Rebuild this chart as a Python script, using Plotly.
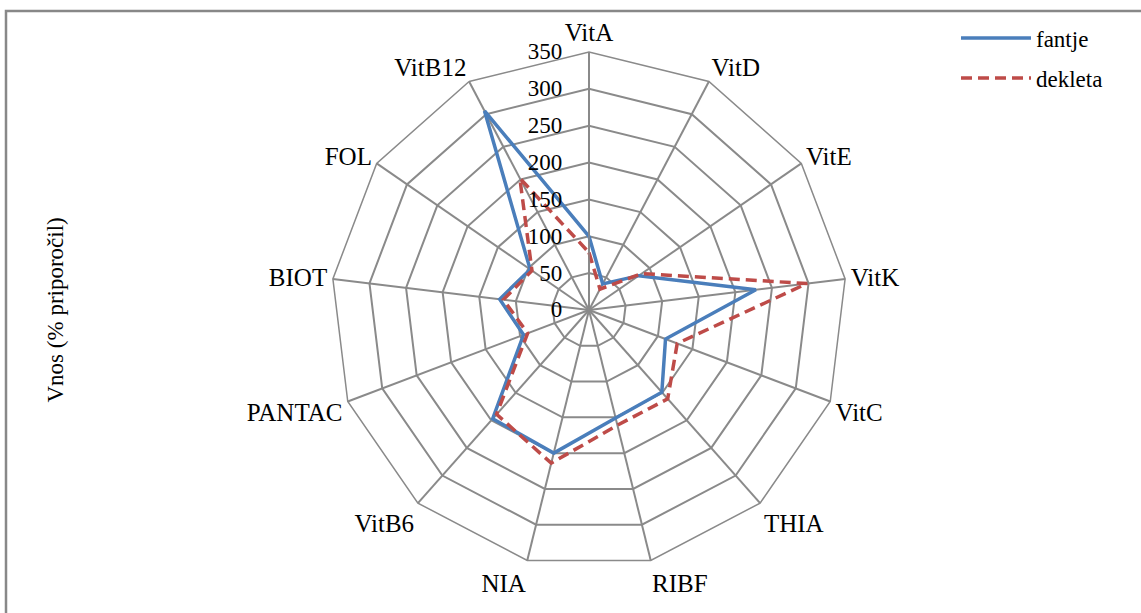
import plotly.graph_objects as go

# Vitamin intake relative to recommendations (%), boys vs girls
categories = ["VitA", "VitD", "VitE", "VitK", "VitC", "THIA", "RIBF",
              "NIA", "VitB6", "PANTAC", "BIOT", "FOL", "VitB12"]
fantje = [100, 40, 82, 228, 111, 149, 151, 200, 197, 95, 122, 97, 305]
dekleta = [78, 32, 87, 298, 128, 161, 161, 214, 189, 89, 117, 94, 202]
radial_ticks = [0, 50, 100, 150, 200, 250, 300, 350]

W, H = 1141, 613
FONT = "Times New Roman, Liberation Serif, serif"
GRID = "#8a8a8a"
FS = 23


def closed(values):
    return values + values[:1]


fig = go.Figure()
fig.add_trace(go.Scatterpolar(
    r=closed(fantje), theta=closed(categories), mode="lines", name="fantje",
    line=dict(color="#4A7EBB", width=3.5), legend="legend", showlegend=True,
))
fig.add_trace(go.Scatterpolar(
    r=closed(dekleta), theta=closed(categories), mode="lines", name="dekleta",
    line=dict(color="#BE4B48", width=3.5, dash="11px,6px"), legend="legend2",
    showlegend=True,
))

# polar area: centre (589, 310), outer radius 258 px
cx, cy, rad = 589, 310, 258
legend_common = dict(xanchor="left", yanchor="middle",
                     font=dict(family=FONT, size=FS, color="black"),
                     bgcolor="rgba(0,0,0,0)", itemwidth=70)
fig.update_layout(
    width=W, height=H,
    margin=dict(l=0, r=0, t=0, b=0),
    paper_bgcolor="white",
    showlegend=True,
    font=dict(family=FONT, size=FS, color="black"),
    polar=dict(
        domain=dict(x=[(cx - rad) / W, (cx + rad) / W],
                    y=[1 - (cy + rad) / H, 1 - (cy - rad) / H]),
        bgcolor="white",
        gridshape="linear",
        angularaxis=dict(
            rotation=90, direction="clockwise",
            categoryorder="array", categoryarray=categories,
            showline=True, linecolor=GRID, linewidth=1.5,
            gridcolor=GRID, gridwidth=1.5,
            ticks="", tickfont=dict(family=FONT, size=25, color="black"),
        ),
        radialaxis=dict(
            range=[0, 350], tickvals=radial_ticks, angle=90,
            side="counterclockwise", tickangle=90,
            showline=True, linecolor=GRID, linewidth=1.5,
            gridcolor=GRID, gridwidth=1.5,
            ticks="outside", ticklen=18, tickcolor="rgba(0,0,0,0)",
            tickfont=dict(family=FONT, size=FS, color="black"),
        ),
    ),
    legend=dict(x=956 / W, y=1 - 38 / H, **legend_common),
    legend2=dict(x=956 / W, y=1 - 78 / H, **legend_common),
    shapes=[dict(type="rect", xref="paper", yref="paper",
                 x0=6 / W, x1=1.01, y0=-0.01, y1=1 - 11 / H,
                 line=dict(color="#888888", width=2.5))],
    annotations=[dict(text="Vnos (% priporočil)", textangle=-90,
                      xref="paper", yref="paper", x=40 / W, y=1 - 310 / H,
                      showarrow=False,
                      font=dict(family=FONT, size=FS, color="black"))],
)

fig.write_html("out.html")
